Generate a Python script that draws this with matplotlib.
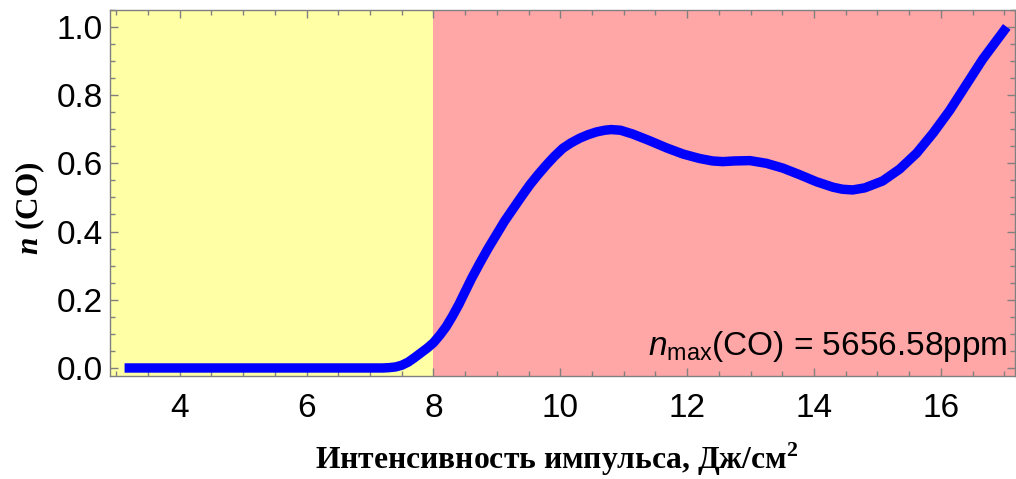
import matplotlib
matplotlib.use("Agg")
import matplotlib.pyplot as plt
from matplotlib.ticker import MultipleLocator

plt.rcParams['mathtext.fontset'] = 'custom'
plt.rcParams['mathtext.rm'] = 'Liberation Sans'
plt.rcParams['mathtext.it'] = 'Liberation Sans:italic'
plt.rcParams['mathtext.bf'] = 'Liberation Serif:bold'
plt.rcParams['mathtext.bfit'] = 'Liberation Serif:bold:italic'

# data
intensity = [3.13, 4.0, 5.0, 6.0, 7.0, 7.2, 7.3, 7.4, 7.5, 7.6, 7.7, 7.8, 7.9, 8.0,
             8.1, 8.2, 8.3, 8.4, 8.5, 8.6, 8.73, 8.86, 8.99, 9.12, 9.26, 9.39, 9.52,
             9.65, 9.78, 9.91, 10.04, 10.17, 10.31, 10.44, 10.57, 10.7, 10.8, 10.95,
             11.14, 11.4, 11.68, 11.94, 12.2, 12.4, 12.56, 12.75, 12.99, 13.25, 13.51,
             13.77, 14.04, 14.3, 14.45, 14.61, 14.8, 15.08, 15.35, 15.62, 15.88, 16.14,
             16.4, 16.66, 16.9, 17.04]
n_co = [0.0, 0.0, 0.0, 0.0, 0.0, 0.0, 0.001, 0.003, 0.008, 0.017, 0.03, 0.044, 0.058, 0.074,
        0.096, 0.121, 0.152, 0.186, 0.224, 0.262, 0.307, 0.35, 0.39, 0.43, 0.468, 0.503,
        0.537, 0.567, 0.595, 0.621, 0.644, 0.66, 0.674, 0.684, 0.692, 0.697, 0.699, 0.697,
        0.686, 0.667, 0.645, 0.627, 0.614, 0.607, 0.605, 0.607, 0.608, 0.6, 0.586, 0.567,
        0.546, 0.53, 0.524, 0.522, 0.528, 0.548, 0.583, 0.63, 0.689, 0.755, 0.83, 0.905,
        0.965, 1.0]

threshold = 8.0
xticks = [4, 6, 8, 10, 12, 14, 16]
yticks = [0.0, 0.2, 0.4, 0.6, 0.8, 1.0]
annotation = r"$n_{\mathrm{max}}$(CO) = 5656.58ppm"
xlabel = r"Интенсивность импульса, Дж/см$^{\mathbf{2}}$"
ylabel_rest = " (CO)"

fig = plt.figure(figsize=(10.16, 4.79), dpi=100)
ax = fig.add_axes([110/1016, 103/479, 905/1016, 366.5/479])

xmin, xmax = 2.9, 17.17
ymin, ymax = -0.0235, 1.051
ax.set_xlim(xmin, xmax)
ax.set_ylim(ymin, ymax)

ax.axvspan(xmin, threshold, color='#FFFFA6', lw=0, zorder=0)
ax.axvspan(threshold, xmax, color='#FFA6A6', lw=0, zorder=0)

ax.plot(intensity, n_co, color='#0000FF', lw=6.8, solid_capstyle='butt',
        solid_joinstyle='round', zorder=3)

ax.set_xticks(xticks)
ax.set_yticks(yticks)
ax.set_yticklabels([f"{v:.1f}" for v in yticks])
ax.xaxis.set_minor_locator(MultipleLocator(0.5))
ax.yaxis.set_minor_locator(MultipleLocator(0.05))
ax.tick_params(which='both', direction='in', top=True, right=True, color='#808080',
               width=1.0, labelsize=24, labelcolor='black')
ax.tick_params(which='major', length=6)
ax.tick_params(which='minor', length=3.5)
ax.tick_params(axis='x', which='major', pad=12)
ax.tick_params(axis='y', which='major', pad=5)
ax.tick_params(axis='x', which='major', labeltop=False)
ax.tick_params(axis='y', which='major', labelright=False)
for lab in ax.get_xticklabels() + ax.get_yticklabels():
    lab.set_fontfamily('Liberation Sans')
for sp in ax.spines.values():
    sp.set_color('#808080')
    sp.set_linewidth(1.0)

ax.text(0.991, 0.057, annotation, transform=ax.transAxes, ha='right', va='baseline',
        fontsize=24, family='Liberation Sans', zorder=4)

fig.text(557/1016, 1 - 469/479, xlabel, ha='center', va='baseline',
         fontsize=22.8, family='Liberation Serif', fontweight='bold')
fig.text(30/1016, 1 - 208/479, r"$\mathbfit{n}$" + ylabel_rest, ha='center', va='center',
         rotation=90, fontsize=22.5, family='Liberation Serif', fontweight='bold')

fig.savefig("out.png", dpi=100)
